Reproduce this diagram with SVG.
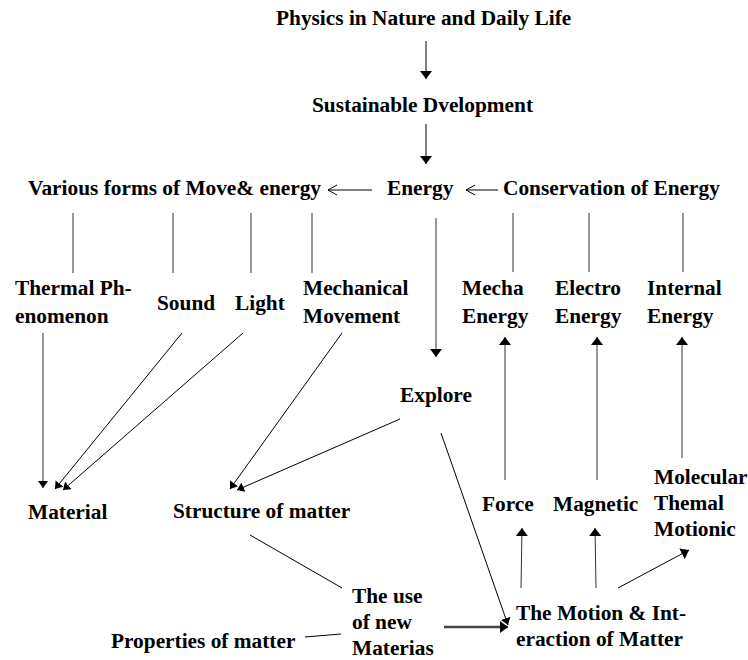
<svg xmlns="http://www.w3.org/2000/svg" width="748" height="660" viewBox="0 0 748 660">
<defs>
<style>
text{font-family:"Liberation Serif","Times New Roman",serif;font-weight:bold;font-size:21.33px;fill:#000}
.c{fill:none;stroke:#000;stroke-width:1}
.g{fill:none;stroke:#333;stroke-width:1}
.t{fill:none;stroke:#444;stroke-width:2.5}
</style>
<marker id="ah" markerUnits="userSpaceOnUse" markerWidth="8" markerHeight="12" viewBox="0 0 8 12" refX="8" refY="6" orient="auto"><path d="M0,0 L8,6 L0,12 z" fill="#000"/></marker>
<marker id="as" markerUnits="userSpaceOnUse" markerWidth="7" markerHeight="10" viewBox="0 0 7 10" refX="7" refY="5" orient="auto"><path d="M0,0 L7,5 L0,10 z" fill="#000"/></marker>
</defs>
<g id="connectors">
<path class="c" d="M426,41 V79" marker-end="url(#ah)"/>
<path class="c" d="M426,124 V164" marker-end="url(#ah)"/>
<path class="c" d="M372,190 H328 M337,185 L328,190 L337,195"/>
<path class="c" d="M498,190 H466 M475,185 L466,190 L475,195"/>
<path class="g" d="M73,213 V273 M173,213 V273 M251,213 V273 M312,213 V273"/>
<path class="g" d="M513,213 V272 M589,213 V272 M683,213 V272"/>
<path class="g" d="M436,218 V357" marker-end="url(#ah)"/>
<path class="g" d="M43,333 V488" marker-end="url(#as)"/>
<path class="c" d="M182,333 L55,489" marker-end="url(#as)"/>
<path class="c" d="M243,333 L63,490" marker-end="url(#as)"/>
<path class="c" d="M342,333 L230,489" marker-end="url(#as)"/>
<path class="c" d="M400,419 L237,490" marker-end="url(#as)"/>
<path class="c" d="M441,433 L508,625" marker-end="url(#as)"/>
<path class="g" d="M505,480 V337" marker-end="url(#ah)"/>
<path class="g" d="M597,480 V337" marker-end="url(#ah)"/>
<path class="g" d="M682,458 V337" marker-end="url(#ah)"/>
<path class="g" d="M521,588 L522,528" marker-end="url(#ah)"/>
<path class="g" d="M596,588 L595,528" marker-end="url(#ah)"/>
<path class="c" d="M618,588 L689,550" marker-end="url(#ah)"/>
<path class="c" d="M250,535 L342,588"/>
<path class="c" d="M305,637 L341,634"/>
<path class="t" d="M444,627 H508" marker-end="url(#ah)"/>
</g>
<g id="n-title"><text x="276" y="25">Physics in Nature and Daily Life</text></g>
<g id="n-sustainable"><text x="312" y="112">Sustainable Dvelopment</text></g>
<g id="n-various"><text x="28" y="195">Various forms of Move&amp; energy</text></g>
<g id="n-energy"><text x="387" y="195">Energy</text></g>
<g id="n-conservation"><text x="503" y="195">Conservation of Energy</text></g>
<g id="n-thermal"><text x="15" y="295">Thermal Ph-</text><text x="15" y="323">enomenon</text></g>
<g id="n-sound"><text x="157" y="310">Sound</text></g>
<g id="n-light"><text x="235" y="310">Light</text></g>
<g id="n-mechanical"><text x="303" y="295">Mechanical</text><text x="303" y="323">Movement</text></g>
<g id="n-mecha"><text x="462" y="295">Mecha</text><text x="462" y="323">Energy</text></g>
<g id="n-electro"><text x="555" y="295">Electro</text><text x="555" y="323">Energy</text></g>
<g id="n-internal"><text x="647" y="295">Internal</text><text x="647" y="323">Energy</text></g>
<g id="n-explore"><text x="400" y="402">Explore</text></g>
<g id="n-material"><text x="28" y="519">Material</text></g>
<g id="n-structure"><text x="173" y="518">Structure of matter</text></g>
<g id="n-force"><text x="482" y="511">Force</text></g>
<g id="n-magnetic"><text x="553" y="511">Magnetic</text></g>
<g id="n-molecular"><text x="654" y="484">Molecular</text><text x="654" y="510">Themal</text><text x="654" y="536">Motionic</text></g>
<g id="n-use"><text x="352" y="603">The use</text><text x="352" y="629">of new</text><text x="352" y="655">Materias</text></g>
<g id="n-properties"><text x="111" y="648">Properties of matter</text></g>
<g id="n-motion"><text x="516" y="620">The Motion &amp; Int-</text><text x="516" y="646">eraction of Matter</text></g>
</svg>
